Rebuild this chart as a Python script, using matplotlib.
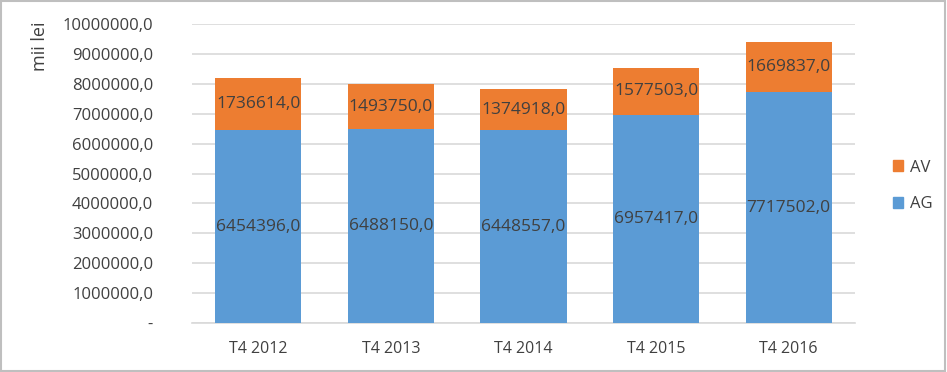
import matplotlib
matplotlib.use("Agg")
import matplotlib.pyplot as plt
import numpy as np
from matplotlib.patches import Rectangle

categories = ["T4 2012", "T4 2013", "T4 2014", "T4 2015", "T4 2016"]
ag = [6454396.0, 6488150.0, 6448557.0, 6957417.0, 7717502.0]
av = [1736614.0, 1493750.0, 1374918.0, 1577503.0, 1669837.0]
yticks = [0, 1000000, 2000000, 3000000, 4000000, 5000000, 6000000, 7000000, 8000000, 9000000, 10000000]

plt.rcParams['font.family'] = ['Open Sans', 'DejaVu Sans']

BLUE = "#5B9BD5"
ORANGE = "#ED7D31"
TXT = "#404040"
GRID = "#D9D9D9"

fig = plt.figure(figsize=(9.47, 3.72), dpi=100)
ax = fig.add_axes([192/947, 1-323/372, (855-192)/947, (323-24)/372])

x = np.arange(len(categories))
w = 0.65
ax.bar(x, ag, w, color=BLUE, zorder=3, label="AG")
ax.bar(x, av, w, bottom=ag, color=ORANGE, zorder=3, label="AV")

def fmt(v):
    return f"{v:.1f}".replace(".", ",")

for i in range(len(categories)):
    ax.text(x[i], ag[i]/2, fmt(ag[i]), ha="center", va="center", fontsize=12.5, color=TXT, zorder=4)
    ax.text(x[i], ag[i] + av[i]/2, fmt(av[i]), ha="center", va="center", fontsize=12.5, color=TXT, zorder=4)

ax.set_xlim(-0.5, len(categories)-0.5)
ax.set_ylim(0, 10000000)
ax.set_yticks(yticks)
ax.set_yticklabels(["-" if t == 0 else fmt(float(t)) for t in yticks])
ax.set_xticks(x)
ax.set_xticklabels(categories)
ax.tick_params(axis="y", length=0, labelsize=12, colors=TXT, pad=28)
ax.tick_params(axis="x", length=0, labelsize=11.5, colors=TXT, pad=13)
ax.grid(axis="y", color=GRID, linewidth=1.2, zorder=0)
for s in ["top", "right", "left"]:
    ax.spines[s].set_visible(False)
ax.spines["bottom"].set_color(GRID)
ax.spines["bottom"].set_linewidth(1.2)

fig.text(40/947, 1-46/372, "mii lei", rotation=90, ha="center", va="center", fontsize=13, color=TXT)

handles = [Rectangle((0, 0), 1, 1, color=ORANGE), Rectangle((0, 0), 1, 1, color=BLUE)]
fig.legend(handles, ["AV", "AG"], loc="center left", bbox_to_anchor=(878/947, 1-186/372),
           frameon=False, fontsize=12, handlelength=0.6, handleheight=0.6,
           labelspacing=1.25, handletextpad=0.4, labelcolor=TXT)

fig.patches.append(Rectangle((0.001, 0.002), 0.997, 0.995, transform=fig.transFigure,
                             fill=False, edgecolor="#BFBFBF", linewidth=1.5))

fig.savefig("out.png", dpi=100)
